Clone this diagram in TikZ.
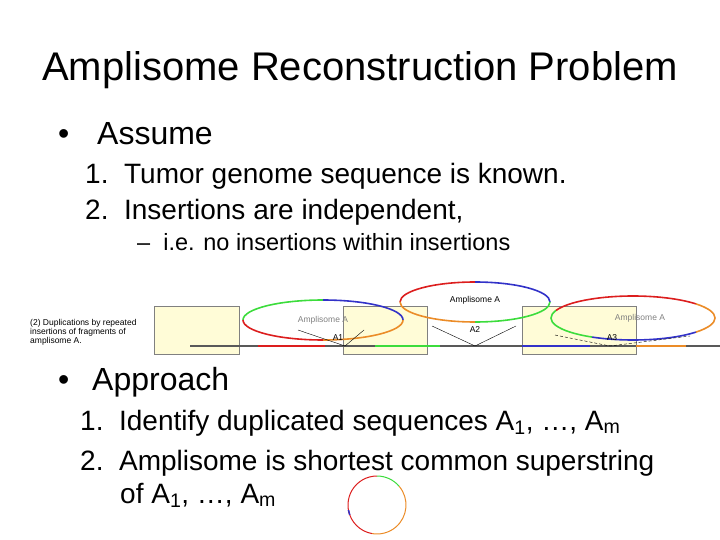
\documentclass[tikz,border=0pt]{standalone}
\usepackage{fontspec}
\setmainfont{Liberation Sans}
\definecolor{ared}{RGB}{220,30,30}
\definecolor{agreen}{RGB}{60,220,60}
\definecolor{ablue}{RGB}{50,50,200}
\definecolor{aorange}{RGB}{235,140,40}
\definecolor{boxfill}{RGB}{255,252,215}
\tikzset{
  txt/.style = {anchor=base west, inner sep=0pt},
  fbox/.style = {draw=gray, fill=boxfill},
  tiny/.style = {font=\fontsize{8.5}{7.5}\selectfont, inner sep=0pt},
  arc/.style = {line width=1.6pt}
}
\begin{document}
\begin{tikzpicture}[x=1pt, y=-1pt]
  \useasboundingbox (0,0) rectangle (720,540);
  \node[txt, font=\fontsize{40}{40}\selectfont] (title) at (42,81) {Amplisome Reconstruction Problem};
  \node[txt, font=\fontsize{32}{32}\selectfont] (b1) at (58,145) {•};
  \node[txt, font=\fontsize{32}{32}\selectfont] (assume) at (97,145) {Assume};
  \node[txt, font=\fontsize{28}{28}\selectfont] (s1) at (85,184) {1.\ \ Tumor genome sequence is known.};
  \node[txt, font=\fontsize{28}{28}\selectfont] (s2) at (85,219) {2.\ \ Insertions are independent,};
  \node[txt, font=\fontsize{23.5}{23.5}\selectfont] (s3) at (137,251) {–\ \ i.e. no insertions within insertions};

  % figure
  \node[fbox, minimum width=85pt, minimum height=48pt] (box1) at (197,330) {};
  \node[fbox, minimum width=84pt, minimum height=48pt] (box2) at (385,330) {};
  \node[fbox, minimum width=114pt, minimum height=48pt] (box3) at (579,330) {};
  \coordinate (g0) at (190,346);
  \coordinate (g1) at (720,346);
  \draw[gray!70!black, line width=1.2pt] (g0) -- (g1);
  \draw[ared, line width=2pt] (258,346) -- (325,346);
  \draw[agreen, line width=2pt] (375,346) -- (440,346);
  \draw[ablue, line width=2pt] (522,346) -- (590,346);
  \draw[aorange, line width=2pt] (636,346) -- (686,346);
  \node[tiny, align=left, anchor=west] (lbl) at (30,332) {(2) Duplications by repeated\\insertions of fragments of\\amplisome A.};
  % A1
  \coordinate (e1) at (323,320);
  \draw[arc, agreen] (e1) ++(180:80 and 20) arc (180:270:80 and 20);
  \draw[arc, ablue] (e1) ++(270:80 and 20) arc (270:360:80 and 20);
  \draw[arc, aorange] (e1) ++(0:80 and 20) arc (0:90:80 and 20);
  \draw[arc, ared] (e1) ++(90:80 and 20) arc (90:180:80 and 20);
  \node[tiny, gray] (n1) at (323,320) {Amplisome A};
  \draw (298,330) -- (345,346) -- (364,330);
  \node[tiny] (a1) at (338,338) {A1};
  % A2
  \coordinate (e2) at (475,302);
  \draw[arc, ared] (e2) ++(180:75 and 20) arc (180:270:75 and 20);
  \draw[arc, ablue] (e2) ++(270:75 and 20) arc (270:360:75 and 20);
  \draw[arc, agreen] (e2) ++(0:75 and 20) arc (0:90:75 and 20);
  \draw[arc, aorange] (e2) ++(90:75 and 20) arc (90:180:75 and 20);
  \node[tiny] (n2) at (475,300) {Amplisome A};
  \draw (432,326) -- (475,346) -- (516,326);
  \node[tiny] (a2) at (475,330) {A2};
  % A3
  \coordinate (e3) at (633,318);
  \draw[arc, ared] (e3) ++(-160:82 and 22) arc (-160:-40:82 and 22);
  \draw[arc, aorange] (e3) ++(-40:82 and 22) arc (-40:40:82 and 22);
  \draw[arc, ablue] (e3) ++(40:82 and 22) arc (40:120:82 and 22);
  \draw[arc, agreen] (e3) ++(120:82 and 22) arc (120:200:82 and 22);
  \node[tiny, gray] (n3) at (640,318) {Amplisome A};
  \draw[densely dashed] (555,335) -- (610,346) -- (690,336);
  \node[tiny] (a3) at (612,338) {A3};

  \node[txt, font=\fontsize{32}{32}\selectfont] (b2) at (58,390) {•};
  \node[txt, font=\fontsize{32}{32}\selectfont] (approach) at (92,390) {Approach};
  \node[txt, font=\fontsize{28}{28}\selectfont] (t1) at (80,430) {1.\ \ Identify duplicated sequences A\textsubscript{1}, …, A\textsubscript{m}};
  \node[txt, font=\fontsize{28}{28}\selectfont] (t2) at (80,470) {2.\ \ Amplisome is shortest common superstring};
  \node[txt, font=\fontsize{28}{28}\selectfont] (t3) at (120,503) {of A\textsubscript{1}, …, A\textsubscript{m}};
  % small circle
  \coordinate (c) at (377,505);
  \draw[line width=1pt, ared] (c) ++(-90:29) arc (-90:-200:29);
  \draw[line width=1pt, agreen] (c) ++(-90:29) arc (-90:-40:29);
  \draw[line width=1pt, aorange] (c) ++(-40:29) arc (-40:100:29);
  \draw[line width=1pt, ared] (c) ++(100:29) arc (100:170:29);
  \draw[line width=1.5pt, ablue] (c) ++(-200:29) arc (-200:-190:29);
\end{tikzpicture}
\end{document}
